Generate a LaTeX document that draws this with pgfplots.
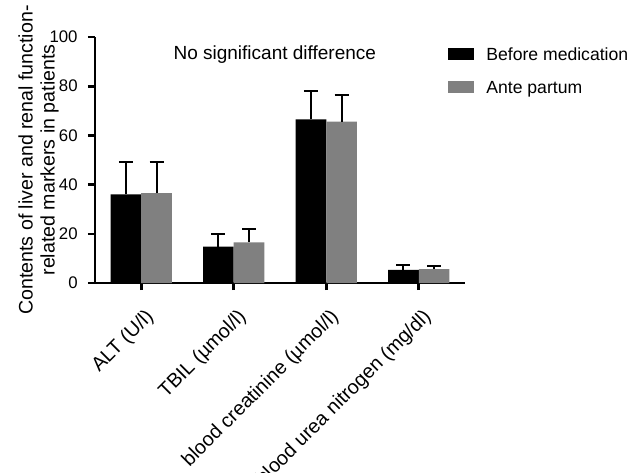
\documentclass[border=0pt]{standalone}
\usepackage{pgfplots}
\pgfplotsset{compat=1.18}
\usepackage{fontspec}
\setmainfont{Liberation Sans}
\definecolor{bargray}{RGB}{128,128,128}
\begin{document}
\fontsize{9.5bp}{11bp}\selectfont
\begin{tikzpicture}
\path[use as bounding box] (-47.5bp,-95bp) rectangle (269bp,141.5bp);
\begin{axis}[
  width=185bp, height=123bp, scale only axis,
  xmin=-0.5, xmax=3.5, ymin=0, ymax=100,
  axis lines=left, axis line style={-, line width=1.3bp},
  ytick={0,20,40,60,80,100},
  xtick={0,1,2,3},
  xticklabels={ALT (U/l), TBIL (µmol/l), blood creatinine (µmol/l), blood urea nitrogen (mg/dl)},
  tick align=outside, major tick length=3.5bp,
  tick style={line width=1.3bp, black},
  /pgf/number format/assume math mode=true,
  yticklabel style={font=\fontsize{8.4bp}{10bp}\selectfont, anchor=east, inner sep=0pt, xshift=-5bp},
  xticklabel style={font=\fontsize{9.9bp}{11bp}\selectfont, rotate=45, anchor=north east, inner sep=0pt},
  every x tick label/.append style={yshift=-7bp, xshift=-5bp},
  ylabel={Contents of liver and renal function-\\related markers in patients},
  ylabel style={at={(axis description cs:0,0.5)}, anchor=south, inner sep=0pt, yshift=18bp, align=center, font=\fontsize{9.8bp}{11bp}\selectfont},
  ybar, bar width=0.33,
  legend style={at={(axis description cs:0.954,0.965)}, anchor=north west, draw=none, fill=none, inner sep=0pt, row sep=7.5bp, column sep=0pt,
    nodes={inner sep=0pt, text height=7bp, text depth=2bp, anchor=base west}, font=\fontsize{8.8bp}{11bp}\selectfont},
  legend cell align=left,
  legend image code/.code={\fill[#1] (0bp,0.2bp) rectangle (13bp,6.2bp); \path (19bp,0bp);},
  error bars/error bar style={line width=1bp, black},
  error bars/error mark options={rotate=90, mark size=3.5bp, line width=1bp, black},
  clip=false,
]
\addplot[fill=black, draw=none, bar shift=-0.165,
  error bars/.cd, y dir=plus, y explicit]
  coordinates {(0,36.0) +- (0,13.3) (1,14.8) +- (0,5.1) (2,66.5) +- (0,11.5) (3,5.3) +- (0,2.0)};
\addplot[fill=bargray, draw=none, bar shift=0.165,
  error bars/.cd, y dir=plus, y explicit]
  coordinates {(0,36.5) +- (0,12.8) (1,16.5) +- (0,5.3) (2,65.6) +- (0,10.8) (3,5.6) +- (0,1.3)};
\legend{Before medication, Ante partum}
\node[anchor=base] at (axis description cs:0.486,0.907) {No significant difference};
\end{axis}
\end{tikzpicture}
\end{document}
